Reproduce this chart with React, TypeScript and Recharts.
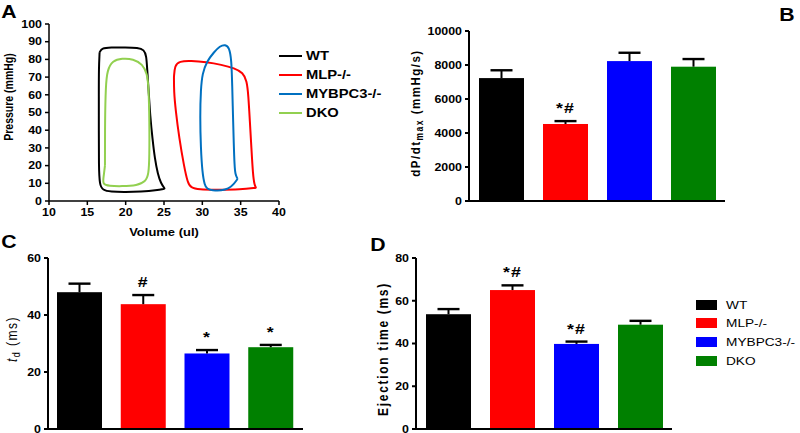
import { LineChart, Line, BarChart, Bar, Cell, XAxis, YAxis } from 'recharts'

const FONT = "'Liberation Sans', Arial, Helvetica, sans-serif"

const GROUPS = ['WT', 'MLP-/-', 'MYBPC3-/-', 'DKO']
const BAR_COLORS = ['#000000', '#ff0000', '#0000ff', '#008000']
const LOOP_COLORS = ['#000000', '#ff0000', '#0070c0', '#92d050']

// panel A: pressure-volume loops, [volume ul, pressure mmHg]
const WT_LOOP = [
  [16.6, 84], [16.9, 86.4], [18, 86.7], [20, 86.8], [21.6, 86.6], [22.4, 85.5],
  [22.7, 82], [22.8, 75], [23.0, 62], [23.2, 48], [23.5, 35], [23.8, 24],
  [24.2, 15], [24.6, 10], [25.1, 7], [25.1, 7], [24, 6], [22, 5.3], [20, 5],
  [18, 5.2], [17, 6.2], [16.6, 9], [16.5, 20], [16.5, 40], [16.5, 60], [16.5, 75], [16.6, 84],
]
const MLP_LOOP = [
  [26.3, 70], [26.4, 76.5], [27, 79], [28.5, 79.2], [30.5, 78.5], [32.5, 77],
  [34.2, 75], [35.3, 72.5], [35.8, 68], [36.0, 60], [36.2, 45], [36.4, 30],
  [36.6, 15], [36.8, 9], [37.0, 7.5], [37.0, 7.5], [35, 6.5], [32, 6.3], [29.5, 6.4],
  [28.5, 7.6], [28.1, 10], [27.6, 20], [27.0, 35], [26.5, 52], [26.3, 62], [26.3, 70],
]
const MYBPC3_LOOP = [
  [34.6, 12.5], [34.6, 12.5], [34.1, 9.5], [33.4, 6.8], [32.5, 5.9], [31.3, 6.0],
  [30.6, 6.8], [30.3, 9], [30.0, 16], [29.8, 30], [29.7, 48], [29.8, 63], [30.0, 72],
  [30.6, 79], [31.5, 84], [32.3, 87.6], [33.0, 88.4], [33.5, 86.8], [33.8, 80],
  [33.9, 65], [34.0, 48], [34.1, 32], [34.2, 20], [34.3, 15], [34.6, 12.5], [34.6, 12.5],
]
const DKO_LOOP = [
  [17.3, 20], [17.3, 45], [17.4, 65], [17.6, 74], [18.3, 79.3], [19.5, 80.6],
  [21, 80.3], [22.2, 77.3], [22.8, 72], [23.0, 64], [23.1, 45], [23.1, 25],
  [23.0, 15], [22.6, 11], [21.5, 8.8], [19.5, 8.3], [17.8, 8.5], [17.0, 9.6],
  [17.1, 13], [17.3, 20],
]
const LOOPS = [WT_LOOP, MLP_LOOP, MYBPC3_LOOP, DKO_LOOP]
const VOL_TICKS = [10, 15, 20, 25, 30, 35, 40]
const PRESS_TICKS = [0, 10, 20, 30, 40, 50, 60, 70, 80, 90, 100]

// panel B: dP/dt max
const DPDT_MEAN = [7230, 4530, 8230, 7900]
const DPDT_ERR = [460, 170, 490, 450]
const DPDT_SIG = ['', '*#', '', '']
const DPDT_TICKS = [0, 2000, 4000, 6000, 8000, 10000]

// panel C: td
const TD_MEAN = [48, 43.8, 26.5, 28.7]
const TD_ERR = [3, 3.2, 1.2, 0.8]
const TD_SIG = ['', '#', '*', '*']
const TD_TICKS = [0, 20, 40, 60]

// panel D: ejection time
const ET_MEAN = [53.7, 65, 39.8, 48.8]
const ET_ERR = [2.4, 2.2, 1.1, 1.8]
const ET_SIG = ['', '*#', '*#', '']
const ET_TICKS = [0, 20, 40, 60, 80]

const STRETCH = 1.18

const YTick = (props: any) => {
  const { x, y, payload } = props
  return (
    <g transform={`translate(${x},${y}) scale(${STRETCH},1)`}>
      <text textAnchor="end" dy="0.36em" fontSize={10.5} fontWeight="bold" fill="#000" fontFamily={FONT}>
        {payload.value}
      </text>
    </g>
  )
}

const XTick = (props: any) => {
  const { x, y, payload } = props
  return (
    <g transform={`translate(${x},${y}) scale(${STRETCH},1)`}>
      <text textAnchor="middle" dy="0.75em" fontSize={10.5} fontWeight="bold" fill="#000" fontFamily={FONT}>
        {payload.value}
      </text>
    </g>
  )
}

// bar + upper SEM whisker + significance mark, scaled from the bar's own geometry
const SemBar = (props: any) => {
  const { x, y, width, height, fill, payload } = props
  const cx = x + width / 2
  const capY = y - (payload.err * height) / payload.mean
  return (
    <g>
      <rect x={x} y={y} width={width} height={height} fill={fill} />
      <line x1={cx} y1={y} x2={cx} y2={capY} stroke="#000" strokeWidth={2} />
      <line x1={cx - 11} y1={capY} x2={cx + 11} y2={capY} stroke="#000" strokeWidth={2.4} />
      {payload.sig && (
        <g transform={`translate(${cx},${capY - 8}) scale(${STRETCH},1)`}>
          <text textAnchor="middle" fontSize={15} fontWeight="bold" letterSpacing={1} fill="#000" fontFamily={FONT}>
            {payload.sig}
          </text>
        </g>
      )}
    </g>
  )
}

function BarPanel({ left, top, width, height, margin, yWidth, mean, err, sig, ticks }: any) {
  const data = GROUPS.map((g, i) => ({ g, mean: mean[i], err: err[i], sig: sig[i] }))
  const axisStyle = { stroke: '#000', strokeWidth: 2 }
  return (
    <div style={{ position: 'absolute', left, top }}>
      <BarChart width={width} height={height} data={data} margin={margin}>
        <XAxis dataKey="g" tick={false} tickLine={false} axisLine={axisStyle} height={1} />
        <YAxis
          domain={[ticks[0], ticks[ticks.length - 1]]}
          ticks={ticks}
          width={yWidth}
          tickSize={4}
          tickMargin={3}
          axisLine={axisStyle}
          tickLine={axisStyle}
          tick={<YTick />}
          interval={0}
        />
        <Bar dataKey="mean" barSize={45} isAnimationActive={false} shape={<SemBar />}>
          {data.map((d, i) => (
            <Cell key={d.g} fill={BAR_COLORS[i]} />
          ))}
        </Bar>
      </BarChart>
    </div>
  )
}

// text drawn in one page-sized svg overlay
function VText({ x, y, size, bold, spacing, children }: any) {
  return (
    <text
      transform={`translate(${x},${y}) scale(${STRETCH},1) rotate(-90)`}
      textAnchor="middle"
      dominantBaseline="central"
      fontSize={size}
      fontWeight={bold ? 'bold' : 'normal'}
      letterSpacing={spacing || 0}
      fill="#000"
    >
      {children}
    </text>
  )
}

function HText({ x, y, size, bold, anchor, children }: any) {
  return (
    <text
      transform={`translate(${x},${y}) scale(${STRETCH},1)`}
      textAnchor={anchor || 'middle'}
      dominantBaseline="central"
      fontSize={size}
      fontWeight={bold ? 'bold' : 'normal'}
      fill="#000"
    >
      {children}
    </text>
  )
}

const LEG_A_Y = [56, 75, 94, 113]
const LEG_D_Y = [305, 323, 342, 361]

export default function App() {
  const axisA = { stroke: '#000', strokeWidth: 1.5 }
  return (
    <div
      style={{
        position: 'absolute',
        left: 0,
        top: 0,
        width: 800,
        height: 433,
        background: '#fff',
        fontFamily: FONT,
        overflow: 'hidden',
      }}
    >
      <div style={{ position: 'absolute', left: 0, top: 0 }}>
        <LineChart width={300} height={240} margin={{ top: 24, right: 21, left: 0, bottom: 19 }}>
          <XAxis
            type="number"
            dataKey="v"
            domain={[10, 40]}
            ticks={VOL_TICKS}
            height={20}
            tickSize={4}
            tickMargin={3}
            axisLine={axisA}
            tickLine={axisA}
            tick={<XTick />}
            interval={0}
            allowDataOverflow
          />
          <YAxis
            type="number"
            domain={[0, 100]}
            ticks={PRESS_TICKS}
            width={49}
            tickSize={4}
            tickMargin={3}
            axisLine={axisA}
            tickLine={axisA}
            tick={<YTick />}
            interval={0}
          />
          {LOOPS.map((loop, i) => (
            <Line
              key={GROUPS[i]}
              data={loop.map(([v, p]) => ({ v, p }))}
              dataKey="p"
              type="basis"
              stroke={LOOP_COLORS[i]}
              strokeWidth={2}
              dot={false}
              isAnimationActive={false}
            />
          ))}
        </LineChart>
      </div>

      <BarPanel
        left={400}
        top={0}
        width={400}
        height={230}
        margin={{ top: 31, right: 75, left: 0, bottom: 28 }}
        yWidth={69}
        mean={DPDT_MEAN}
        err={DPDT_ERR}
        sig={DPDT_SIG}
        ticks={DPDT_TICKS}
      />
      <BarPanel
        left={0}
        top={230}
        width={400}
        height={215}
        margin={{ top: 28, right: 97, left: 0, bottom: 15 }}
        yWidth={48}
        mean={TD_MEAN}
        err={TD_ERR}
        sig={TD_SIG}
        ticks={TD_TICKS}
      />
      <BarPanel
        left={370}
        top={230}
        width={430}
        height={215}
        margin={{ top: 28, right: 128, left: 0, bottom: 15 }}
        yWidth={46}
        mean={ET_MEAN}
        err={ET_ERR}
        sig={ET_SIG}
        ticks={ET_TICKS}
      />

      <svg
        width={800}
        height={433}
        style={{ position: 'absolute', left: 0, top: 0, pointerEvents: 'none' }}
        fontFamily={FONT}
      >
        {/* panel letters */}
        <HText x={9} y={12} size={18} bold>A</HText>
        <HText x={787} y={15} size={18} bold>B</HText>
        <HText x={9} y={242} size={18} bold>C</HText>
        <HText x={378} y={245} size={18} bold>D</HText>

        {/* axis titles */}
        <VText x={9} y={97} size={10.5} bold>Pressure (mmHg)</VText>
        <HText x={164} y={232} size={11} bold>Volume (ul)</HText>
        <VText x={416} y={113} size={11.5} bold spacing={1.5}>
          dP/dt
          <tspan fontSize={8.5} dy={3}>max</tspan>
          <tspan dy={-3}> (mmHg/s)</tspan>
        </VText>
        <VText x={12} y={339} size={12} spacing={1.5}>
          <tspan fontStyle="italic">t</tspan>
          <tspan fontSize={9} dy={3}>d</tspan>
          <tspan dy={-3}> (ms)</tspan>
        </VText>
        <VText x={383} y={349} size={12} bold spacing={1.7}>Ejection time (ms)</VText>

        {/* legend for panel A */}
        {GROUPS.map((g, i) => (
          <g key={g}>
            <line x1={279} x2={302} y1={LEG_A_Y[i]} y2={LEG_A_Y[i]} stroke={LOOP_COLORS[i]} strokeWidth={2} />
            <HText x={306} y={LEG_A_Y[i]} size={12.5} bold anchor="start">
              {g}
            </HText>
          </g>
        ))}

        {/* legend for bar panels */}
        {GROUPS.map((g, i) => (
          <g key={'b' + g}>
            <rect x={696} y={LEG_D_Y[i] - 5} width={21} height={10} fill={BAR_COLORS[i]} />
            <HText x={726} y={LEG_D_Y[i]} size={11.6} anchor="start">
              {g}
            </HText>
          </g>
        ))}
      </svg>
    </div>
  )
}
